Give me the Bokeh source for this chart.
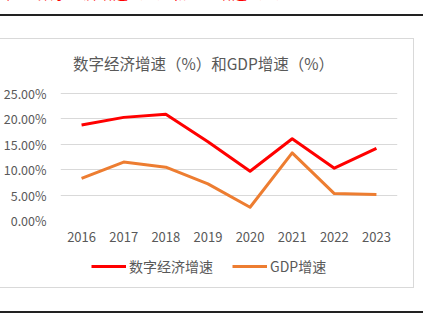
from bokeh.plotting import figure
from bokeh.models import Range1d, Label, Legend, LegendItem, Div
from bokeh.layouts import column
from bokeh.embed import file_html
from bokeh.resources import INLINE

years = ["2016", "2017", "2018", "2019", "2020", "2021", "2022", "2023"]
digital = [18.8, 20.3, 20.9, 15.5, 9.7, 16.1, 10.3, 14.2]
gdp = [8.3, 11.5, 10.5, 7.2, 2.6, 13.3, 5.3, 5.1]
series_names = ["数字经济增速", "GDP增速"]
series_colors = ["#FF0000", "#ED7D31"]
y_ticks = [0, 5, 10, 15, 20, 25]
title_text = "数字经济增速（%）和GDP增速（%）"
caption_text = "数字经济增速（%）和GDP增速（%）"

FONT = "Noto Sans CJK SC"
GRAY = "#595959"

# top strip: clipped red caption and black rule
top_div = Div(width=434, height=39, margin=0, text=(
    '<div style="position:relative;width:434px;height:39px;overflow:hidden;">'
    f'<div style="position:absolute;left:-5px;top:-15px;line-height:15px;font-size:15px;'
    f'font-family:\'{FONT}\';color:#ff0000;white-space:nowrap;">图</div>'
    f'<div style="position:absolute;left:38px;top:-15px;line-height:15px;font-size:15px;'
    f'font-family:\'{FONT}\';color:#ff0000;white-space:nowrap;">{caption_text}</div>'
    '<div style="position:absolute;left:0;top:14px;width:423px;height:1.5px;background:#222;"></div>'
    '</div>'))

# main plot: page y 39..250; 25% at page y 93, 0% at page y 220; frame top at page y 44
y_end = 25 * (220 - 44) / (220 - 93)
p = figure(width=413, height=211, x_range=years, y_range=Range1d(0, y_end),
           output_backend="svg", toolbar_location=None,
           min_border_left=60, min_border_right=16, min_border_top=5, min_border_bottom=30,
           margin=0)
p.title.visible = False
p.background_fill_color = "white"
p.border_fill_color = "white"
p.outline_line_color = None
p.xgrid.grid_line_color = None
p.ygrid.grid_line_color = "#d9d9d9"
p.ygrid.grid_line_width = 1
p.yaxis.ticker = y_ticks
p.yaxis.major_label_overrides = {v: "%.2f%%" % v for v in y_ticks}
for ax in (p.xaxis, p.yaxis):
    ax.axis_line_color = None
    ax.major_tick_line_color = None
    ax.minor_tick_line_color = None
    ax.major_label_text_font = FONT
    ax.major_label_text_color = GRAY
    ax.major_label_text_font_size = "13px"
p.yaxis.major_label_text_font_size = "12.5px"
p.yaxis.major_label_standoff = 8
p.xaxis.major_label_standoff = 5

p.line(years, digital, line_color=series_colors[0], line_width=3, line_join="round")
p.line(years, gdp, line_color=series_colors[1], line_width=3, line_join="round")

# title centred near page (201, 62): frame-relative screen coords
p.add_layout(Label(x=143, y=158, x_units="screen", y_units="screen", text=title_text,
                   text_align="center", text_baseline="middle", text_font=FONT,
                   text_font_size="15.5px", text_color=GRAY))

# legend strip: page y 250..287 (same series drawn out of view, only their legend shows)
pl = figure(width=413, height=37, x_range=years, y_range=Range1d(-20, -10),
            output_backend="svg", toolbar_location=None, x_axis_type=None, y_axis_type=None,
            min_border=0, margin=0)
pl.title.visible = False
pl.outline_line_color = None
pl.xgrid.grid_line_color = None
pl.ygrid.grid_line_color = None
pl.background_fill_color = "white"
pl.border_fill_color = "white"
k1 = pl.line(years, digital, line_color=series_colors[0], line_width=3)
k2 = pl.line(years, gdp, line_color=series_colors[1], line_width=3)
legend = Legend(items=[LegendItem(label=series_names[0], renderers=[k1]),
                       LegendItem(label=series_names[1], renderers=[k2])],
                location=(31, 11), orientation="horizontal",
                padding=0, margin=0, spacing=19, glyph_width=35, glyph_height=20,
                label_standoff=3, label_text_font=FONT, label_text_font_size="14px",
                label_text_color=GRAY, border_line_color=None, background_fill_alpha=0)
pl.add_layout(legend, "center")

box = column(p, pl, spacing=0, margin=0, styles={"box-shadow": "0 0 0 1px #d9d9d9"})

bot_div = Div(width=434, height=38, margin=0, text=(
    '<div style="position:relative;width:434px;height:38px;overflow:hidden;">'
    '<div style="position:absolute;left:0;top:24px;width:423px;height:2px;background:#222;"></div>'
    '</div>'))

layout = column(top_div, box, bot_div, spacing=0, margin=0)
open("out.html", "w").write(file_html(layout, INLINE))
